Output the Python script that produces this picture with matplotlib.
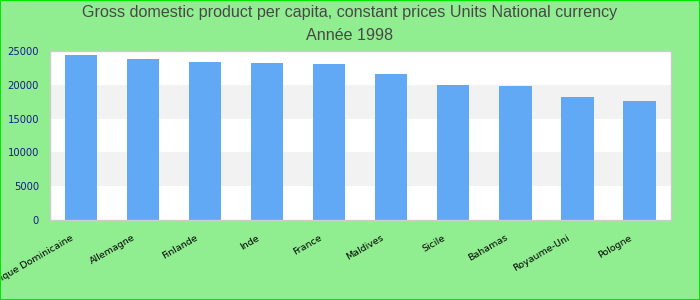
import matplotlib
matplotlib.use("Agg")
import matplotlib.pyplot as plt
import matplotlib.transforms as mtransforms
import numpy as np

categories = ["République Dominicaine", "Allemagne", "Finlande", "Inde", "France",
              "Maldives", "Sicile", "Bahamas", "Royaume-Uni", "Pologne"]
values = [24400, 23800, 23400, 23200, 23100, 21600, 20000, 19800, 18200, 17600]
yticks = [0, 5000, 10000, 15000, 20000, 25000]
title_lines = ["Gross domestic product per capita, constant prices Units National currency",
               "Année 1998"]

fig = plt.figure(figsize=(7, 3), dpi=100, facecolor="#90EE90")
fig.patches.append(plt.Rectangle((0, 0), 1, 1, transform=fig.transFigure,
                                 fill=False, edgecolor="#00E600", linewidth=1.5, zorder=10))
ax = fig.add_axes([50/700, 80/300, 620.5/700, 169/300])
ax.set_facecolor("white")

for i in range(0, len(yticks) - 1):
    if i % 2 == 1:
        ax.axhspan(yticks[i], yticks[i + 1], color="#F2F2F2", zorder=0, linewidth=0)

x = np.arange(len(categories))
ax.bar(x, values, width=0.52, color="#62A9F5", zorder=2)
ax.set_xlim(-0.5, len(categories) - 0.5)
ax.set_ylim(0, 25000)
ax.set_yticks(yticks)
ax.set_yticklabels([str(v) for v in yticks], color="#1A1A8C", fontsize=7.2,
                   family="DejaVu Sans")
ax.tick_params(axis="y", length=0, pad=8)
ax.set_xticks(x)
ax.set_xticklabels(categories, rotation=30, ha="right", fontsize=6.8,
                   family="DejaVu Sans", color="black")
ax.tick_params(axis="x", length=0, pad=9.5)
offset = mtransforms.ScaledTranslation(-6/100, 0, fig.dpi_scale_trans)
for lab in ax.get_xticklabels():
    lab.set_transform(lab.get_transform() + offset)

for s in ax.spines.values():
    s.set_color("#CCCCCC")
    s.set_linewidth(1)

fig.text(0.5, 1 - 13/300, title_lines[0], ha="center", va="center", fontsize=11.6,
         color="#484848", family="Liberation Sans")
fig.text(0.5, 1 - 36/300, title_lines[1], ha="center", va="center", fontsize=11.6,
         color="#484848", family="Liberation Sans")

fig.savefig("out.png", dpi=100, facecolor=fig.get_facecolor())
